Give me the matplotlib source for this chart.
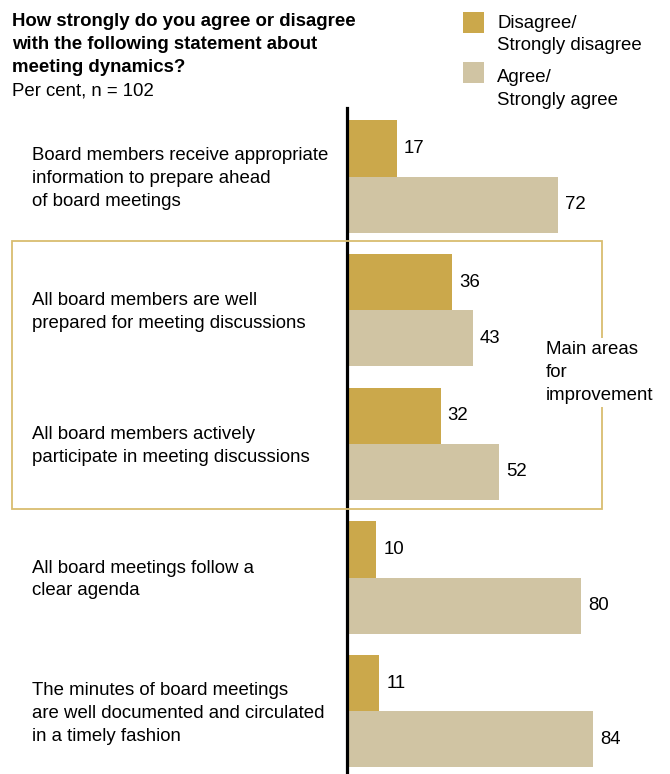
import matplotlib.pyplot as plt
import matplotlib.patches as mpatches
import numpy as np

plt.rcParams['font.family'] = ['Liberation Sans', 'DejaVu Sans']

statements = [
    "Board members receive appropriate\ninformation to prepare ahead\nof board meetings",
    "All board members are well\nprepared for meeting discussions",
    "All board members actively\nparticipate in meeting discussions",
    "All board meetings follow a\nclear agenda",
    "The minutes of board meetings\nare well documented and circulated\nin a timely fashion",
]
disagree = [17, 36, 32, 10, 11]
agree = [72, 43, 52, 80, 84]

c_disagree = '#CBA84B'
c_agree = '#D0C4A3'
c_box = '#D9BD70'

FS = 13.4
LS = 1.45

W, H = 670, 774
fig = plt.figure(figsize=(W / 100, H / 100), dpi=100)


def fx(px):
    return px / W


def fy(py):
    return 1 - py / H


# bar panel: axis line at x=347, starting below the header
ax = fig.add_axes([fx(347), 0, 1 - fx(347), fy(108)])
y = np.arange(len(statements))
h = 0.42
ax.barh(y - h / 2, disagree, height=h, color=c_disagree)
ax.barh(y + h / 2, agree, height=h, color=c_agree)
ax.set_xlim(0, 110.4)
ax.set_ylim(4.47, -0.513)
for s in ['top', 'right', 'bottom']:
    ax.spines[s].set_visible(False)
ax.spines['left'].set_linewidth(2.3)
ax.spines['left'].set_color('black')
ax.set_xticks([])
ax.set_yticks([])

for i in range(len(statements)):
    ax.text(disagree[i] + 2.4, y[i] - h / 2, str(disagree[i]), va='center', ha='left', fontsize=FS)
    ax.text(agree[i] + 2.4, y[i] + h / 2, str(agree[i]), va='center', ha='left', fontsize=FS)
    # statement labels sit left of the axis, centred on each pair of bars
    ax.text(-107.5, y[i] + 0.015, statements[i], va='center', ha='left', fontsize=FS,
            linespacing=LS, clip_on=False)

# highlight frame around the two weakest statements
rect = mpatches.Rectangle((fx(12), fy(509)), fx(602) - fx(12), fy(241) - fy(509),
                          transform=fig.transFigure, fill=False, edgecolor=c_box,
                          linewidth=1.3, zorder=0)
fig.patches.append(rect)
fig.text(fx(546), fy(372.5), "Main areas\nfor\nimprovement", fontsize=FS, va='center',
         ha='left', linespacing=LS,
         bbox=dict(facecolor='white', edgecolor='none', pad=2))

# header
fig.text(fx(12), fy(13), "How strongly do you agree or disagree\nwith the following statement about\nmeeting dynamics?",
         fontsize=FS, fontweight='bold', va='top', ha='left', linespacing=LS)
fig.text(fx(12), fy(91), "Per cent, n = 102", fontsize=FS, va='center', ha='left')

# legend
for top, mid, color, label in [(12, 34.5, c_disagree, "Disagree/\nStrongly disagree"),
                               (62, 89, c_agree, "Agree/\nStrongly agree")]:
    fig.patches.append(mpatches.Rectangle((fx(463), fy(top + 21)), fx(21), fy(top) - fy(top + 21),
                                          transform=fig.transFigure, facecolor=color,
                                          edgecolor='none'))
    fig.text(fx(497), fy(mid), label, fontsize=FS, va='center', ha='left', linespacing=LS)

fig.savefig('out.png', dpi=100)
